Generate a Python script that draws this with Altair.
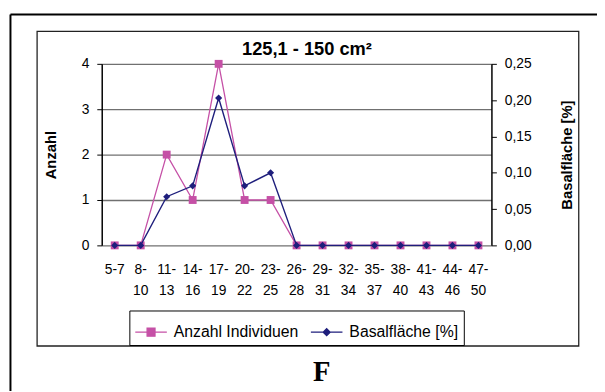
import altair as alt
import pandas as pd

categories = ["5-7", "8-10", "11-13", "14-16", "17-19", "20-22", "23-25", "26-28",
              "29-31", "32-34", "35-37", "38-40", "41-43", "44-46", "47-50"]
label_line1 = ["5-7", "8-", "11-", "14-", "17-", "20-", "23-", "26-",
               "29-", "32-", "35-", "38-", "41-", "44-", "47-"]
label_line2 = ["", "10", "13", "16", "19", "22", "25", "28",
               "31", "34", "37", "40", "43", "46", "50"]
anzahl = [0, 0, 2, 1, 4, 1, 1, 0, 0, 0, 0, 0, 0, 0, 0]
basal = [0, 0, 0.067, 0.082, 0.203, 0.082, 0.100, 0, 0, 0, 0, 0, 0, 0, 0]
series_names = ["Anzahl Individuen", "Basalfläche [%]"]
left_ticks = [0, 1, 2, 3, 4]
right_ticks = [0, 0.05, 0.10, 0.15, 0.20, 0.25]
chart_title = "125,1 - 150 cm²"
panel_letter = "F"

MAG = "#C550A6"
NAVY = "#1E1E7C"
FONT = "Liberation Sans"

df = pd.DataFrame({"cat": categories, "anzahl": anzahl, "basal": basal,
                   "l1": label_line1, "l2": label_line2})

xscale = alt.Scale(type="band", domain=categories, paddingInner=0, paddingOuter=0)
xenc = alt.X("cat:N", sort=categories, scale=xscale,
             axis=alt.Axis(title=None, labels=False, tickBand="extent", grid=False,
                           tickSize=5, tickColor="black", domainColor="black", domainWidth=1.5))

left_axis = alt.Axis(title="Anzahl", values=left_ticks, format="d", grid=True,
                     gridColor="#707070", gridWidth=1.3, tickSize=5, tickColor="black",
                     domainColor="black", domainWidth=1.5, labelFontSize=14, labelFont=FONT,
                     labelColor="black", labelPadding=8, titleFont=FONT, titleFontSize=15,
                     titleFontWeight="bold", titleColor="black", titlePadding=23)
right_axis = alt.Axis(title="Basalfläche [%]", values=right_ticks, orient="right", grid=False,
                      labelExpr="replace(format(datum.value, '.2f'), '.', ',')",
                      tickSize=5, tickColor="black", domainColor="black", domainWidth=1.5,
                      labelFontSize=14, labelFont=FONT, labelColor="black", labelPadding=8,
                      titleFont=FONT, titleFontSize=15, titleFontWeight="bold",
                      titleColor="black", titleAngle=270, titleX=76, titleY=92,
                      titleAlign="center", titleBaseline="middle")

yl = alt.Y("anzahl:Q", scale=alt.Scale(domain=[0, 4], nice=False), axis=left_axis)
yr = alt.Y("basal:Q", scale=alt.Scale(domain=[0, 0.25], nice=False), axis=right_axis)

base = alt.Chart(df)

# decorative frames and texts
frame_df = pd.DataFrame({"k": [1]})
outer_top = alt.Chart(frame_df).mark_rule(stroke="black", strokeWidth=2).encode(
    x=alt.value(-92.5), x2=alt.value(620), y=alt.value(-50))
outer_left = alt.Chart(frame_df).mark_rule(stroke="black", strokeWidth=2).encode(
    x=alt.value(-92.5), y=alt.value(-50), y2=alt.value(400))
inner = alt.Chart(frame_df).mark_rect(filled=False, stroke="#222222", strokeWidth=1.3).encode(
    x=alt.value(-65.5), x2=alt.value(483.5), y=alt.value(-33), y2=alt.value(286))
ftext = alt.Chart(pd.DataFrame({"t": [panel_letter]})).mark_text(
    font="Liberation Serif", fontSize=29, fontWeight="bold", color="black",
    align="center", baseline="alphabetic").encode(
    text="t:N", x=alt.value(223), y=alt.value(321))
ttext = alt.Chart(pd.DataFrame({"t": [chart_title]})).mark_text(
    font=FONT, fontSize=18.5, fontWeight="bold", color="black",
    align="center", baseline="alphabetic").encode(
    text="t:N", x=alt.value(208), y=alt.value(-9))

mag_line = base.mark_line(color=MAG, strokeWidth=1.3).encode(x=xenc, y=yl)
mag_pts = base.mark_point(shape="square", filled=True, color=MAG, size=64, opacity=1).encode(x=xenc, y=yl)

lab1 = base.mark_text(font=FONT, fontSize=14, color="black", baseline="alphabetic").encode(
    x=alt.X("cat:N", sort=categories, scale=xscale, bandPosition=0.5, axis=None),
    y=alt.value(213), text="l1:N")
lab2 = base.mark_text(font=FONT, fontSize=14, color="black", baseline="alphabetic").encode(
    x=alt.X("cat:N", sort=categories, scale=xscale, bandPosition=0.5, axis=None),
    y=alt.value(234), text="l2:N")

# legend (legend-only layer, no data rows)
sym_sq = "M-1,0H1M-0.25,-0.25H0.25V0.25H-0.25Z"
sym_di = "M-1,0H1M0,-0.22L0.22,0L0,0.22L-0.22,0Z"
leg = alt.Legend(title=None, orient="none", legendX=28, legendY=250, direction="horizontal",
                 strokeColor="black", padding=5, symbolSize=1024, symbolStrokeWidth=1.3,
                 labelFontSize=16, labelFont=FONT, labelColor="black", labelOffset=6,
                 columnPadding=9, symbolOpacity=1)
legend_layer = base.transform_calculate(s="'none'").transform_filter(
    "datum.anzahl < 0").mark_point(filled=True, opacity=1).encode(
    x=xenc, y=yl,
    shape=alt.Shape("s:N", scale=alt.Scale(domain=series_names, range=[sym_sq, sym_di]), legend=leg),
    fill=alt.Fill("s:N", scale=alt.Scale(domain=series_names, range=[MAG, NAVY]), legend=leg),
    stroke=alt.Stroke("s:N", scale=alt.Scale(domain=series_names, range=[MAG, NAVY]), legend=leg),
)

nav_line = base.mark_line(color=NAVY, strokeWidth=1.4).encode(x=xenc, y=yr)
nav_pts = base.mark_point(shape="diamond", filled=True, color=NAVY, size=52, opacity=1).encode(x=xenc, y=yr)

left = alt.layer(outer_top, outer_left, inner, ftext, ttext, mag_line, mag_pts, lab1, lab2, legend_layer)
right = alt.layer(nav_line, nav_pts)

chart = alt.layer(left, right).resolve_scale(y="independent").properties(
    width=395, height=184,
    autosize=alt.AutoSizeParams(type="none"),
    padding={"left": 95, "top": 54, "right": 107, "bottom": 145},
).configure_view(stroke="transparent")

chart.save("out.html", embed_options={"renderer": "svg", "actions": False})
